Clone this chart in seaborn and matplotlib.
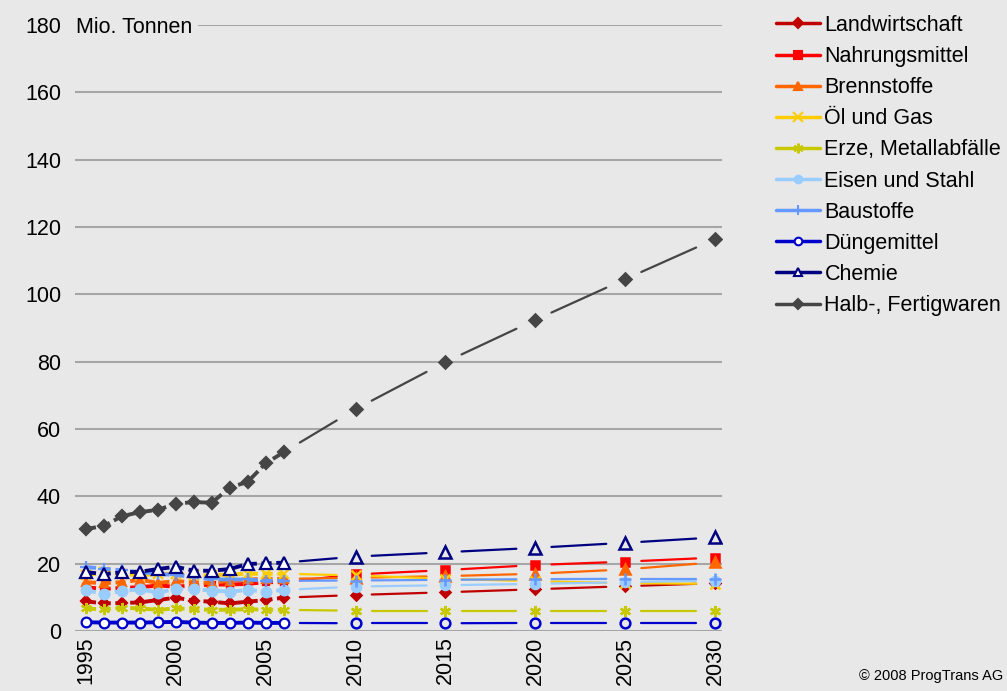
import matplotlib
matplotlib.use("Agg")
import matplotlib.pyplot as plt
import matplotlib.transforms as mtransforms
from matplotlib.lines import Line2D
import numpy as np
import pandas as pd
import seaborn as sns

# ---------------- data ----------------
hist_years = [1995, 1996, 1997, 1998, 1999, 2000, 2001, 2002, 2003, 2004, 2005, 2006]
fc_years = [2010, 2015, 2020, 2025, 2030]

series_names = ["Landwirtschaft", "Nahrungsmittel", "Brennstoffe", "Öl und Gas",
                "Erze, Metallabfälle", "Eisen und Stahl", "Baustoffe", "Düngemittel",
                "Chemie", "Halb-, Fertigwaren"]

landwirtschaft_hist = [8.8, 8.2, 8.3, 8.5, 9.2, 9.9, 9.0, 8.7, 8.2, 8.7, 9.2, 9.9]
landwirtschaft_fc = [10.7, 11.5, 12.4, 13.3, 14.2]
nahrungsmittel_hist = [13.0, 12.5, 12.8, 13.0, 13.5, 13.2, 13.5, 13.8, 13.8, 14.0, 14.5, 14.5]
nahrungsmittel_fc = [16.8, 18.1, 19.6, 20.6, 21.8]
brennstoffe_hist = [14.5, 14.2, 14.5, 15.2, 14.3, 14.8, 14.5, 14.2, 15.0, 15.3, 15.5, 15.5]
brennstoffe_fc = [15.8, 16.3, 17.0, 18.3, 20.4]
oel_gas_hist = [16.5, 17.5, 17.0, 16.5, 17.0, 17.0, 16.5, 16.5, 16.8, 17.0, 17.0, 17.0]
oel_gas_fc = [16.5, 15.5, 14.8, 14.2, 14.0]
erze_hist = [6.7, 6.4, 6.9, 6.7, 6.3, 6.7, 6.5, 6.3, 6.3, 6.5, 6.3, 6.3]
erze_fc = [6.0, 6.0, 6.0, 6.0, 6.0]
eisen_hist = [12.2, 10.9, 11.9, 12.4, 11.4, 12.5, 12.4, 12.0, 11.7, 12.2, 11.7, 12.2]
eisen_fc = [13.2, 13.6, 14.0, 14.5, 15.0]
baustoffe_hist = [19.0, 18.5, 18.0, 17.5, 17.0, 16.6, 16.1, 15.3, 15.3, 15.3, 14.9, 14.9]
baustoffe_fc = [15.0, 15.2, 15.4, 15.5, 15.5]
duenge_hist = [2.6, 2.5, 2.5, 2.5, 2.6, 2.7, 2.5, 2.4, 2.4, 2.5, 2.4, 2.4]
duenge_fc = [2.3, 2.3, 2.4, 2.4, 2.4]
chemie_hist = [17.5, 16.9, 17.4, 17.6, 18.4, 19.1, 17.9, 17.9, 18.4, 19.9, 20.1, 20.3]
chemie_fc = [22.1, 23.4, 24.7, 26.2, 27.8]
halb_hist = [30.3, 31.2, 34.1, 35.3, 36.0, 37.8, 38.3, 38.1, 42.6, 44.3, 49.8, 53.1]
halb_fc = [65.9, 79.9, 92.4, 104.5, 116.4]

hist_values = [landwirtschaft_hist, nahrungsmittel_hist, brennstoffe_hist, oel_gas_hist,
               erze_hist, eisen_hist, baustoffe_hist, duenge_hist, chemie_hist, halb_hist]
fc_values = [landwirtschaft_fc, nahrungsmittel_fc, brennstoffe_fc, oel_gas_fc,
             erze_fc, eisen_fc, baustoffe_fc, duenge_fc, chemie_fc, halb_fc]

y_ticks = [0, 20, 40, 60, 80, 100, 120, 140, 160, 180]
x_ticks = [1995, 2000, 2005, 2010, 2015, 2020, 2025, 2030]
unit_label = "Mio. Tonnen"
copyright_text = "© 2008 ProgTrans AG"

# ---------------- styles ----------------
colors = ["#C00000", "#FF0000", "#FF6600", "#FFCC00", "#C8C800",
          "#99CCFF", "#6699FF", "#0000CC", "#000080", "#454545"]
markers = ["D", "s", "^", "x", (6, 2, 0), "o", "+", "o", "^", "D"]
hollow = [False, False, False, False, False, False, False, True, True, False]
hist_ms = [5.5, 5, 6, 6.5, 8, 7, 9, 7, 8, 6]
fc_ms = [5, 6, 6.5, 7, 8, 6.5, 9, 7, 8.5, 6]
hist_ls = ["dash", "dash", "dash", "dash", "dash", "dash", "dash", "solid", "dash", "dash"]

BG = "#E8E8E8"
GRID = "#A6A6A6"

sns.set_theme(style="white")
plt.rcParams["font.family"] = ["Liberation Sans", "DejaVu Sans"]
plt.rcParams["axes.facecolor"] = BG
plt.rcParams["figure.facecolor"] = BG
plt.rcParams["text.color"] = "black"
plt.rcParams["xtick.color"] = "black"
plt.rcParams["ytick.color"] = "black"
plt.rcParams["xtick.labelcolor"] = "black"
plt.rcParams["ytick.labelcolor"] = "black"

fig = plt.figure(figsize=(10.07, 6.91), dpi=100)
ax = fig.add_axes([75 / 1007, 60 / 691, 647 / 1007, 606 / 691])
ax.set_facecolor(BG)

FS = 15.5

for i, name in enumerate(series_names):
    c = colors[i]
    mfc = "white" if hollow[i] else c
    kw = dict(linewidth=2.8, marker=markers[i], markersize=hist_ms[i],
              markerfacecolor=mfc, markeredgecolor=c, markeredgewidth=1.6,
              zorder=3 + i * 0.1)
    if hist_ls[i] == "dash":
        kw["dashes"] = (2.6, 1.2)
    else:
        kw["linestyle"] = "-"
    sns.lineplot(x=hist_years, y=hist_values[i], ax=ax, color=c, label=None, **kw)

    # forecast segments (shortened between markers)
    xs = [hist_years[-1]] + fc_years
    ys = [hist_values[i][-1]] + fc_values[i]
    rows = []
    for k in range(len(xs) - 1):
        x0, x1, y0, y1 = xs[k], xs[k + 1], ys[k], ys[k + 1]
        a = 0.9 / (x1 - x0)
        b = 1.05 / (x1 - x0)
        rows.append((k, x0 + a * (x1 - x0), y0 + a * (y1 - y0)))
        rows.append((k, x1 - b * (x1 - x0), y1 - b * (y1 - y0)))
    seg = pd.DataFrame(rows, columns=["seg", "x", "y"])
    sns.lineplot(data=seg, x="x", y="y", units="seg", estimator=None, ax=ax,
                 color=c, linewidth=1.6, zorder=2 + i * 0.1)
    fmfc = "none" if hollow[i] else c
    sns.lineplot(x=fc_years, y=fc_values[i], ax=ax, color=c, linestyle="none",
                 marker=markers[i], markersize=fc_ms[i], markerfacecolor=fmfc,
                 markeredgecolor=c, markeredgewidth=1.8, zorder=3 + i * 0.1)

ax.set_xlim(1994.39, 2030.39)
ax.set_ylim(0, 180)
ax.set_yticks(y_ticks)
ax.set_xticks(x_ticks)
ax.set_xticklabels([str(t) for t in x_ticks], rotation=90, fontsize=FS, color="black")
ax.set_yticklabels([str(t) for t in y_ticks], fontsize=FS, color="black")
ax.tick_params(axis="both", length=0)
ax.tick_params(axis="y", pad=10)
ax.tick_params(axis="x", pad=4)
ax.set_xlabel("")
ax.set_ylabel("")
for s in ax.spines.values():
    s.set_visible(False)
for t in y_ticks:
    ax.axhline(t, color=GRID, linewidth=1.5, zorder=1)

trans = mtransforms.blended_transform_factory(ax.transAxes, ax.transData)
ax.text(0.002, 179.2, unit_label, transform=trans, fontsize=FS, ha="left",
        va="center", zorder=5, color="black",
        bbox=dict(facecolor=BG, edgecolor="none", pad=4))

handles = []
for i, name in enumerate(series_names):
    c = colors[i]
    mfc = "white" if hollow[i] else c
    handles.append(Line2D([0], [0], color=c, linewidth=2.5, marker=markers[i],
                          markersize=5.5 if markers[i] not in ("+", "x", (6, 2, 0)) else 7,
                          markerfacecolor=mfc, markeredgecolor=c,
                          markeredgewidth=1.5))
leg = fig.legend(handles, series_names, loc="upper left",
                 bbox_to_anchor=(776 / 1007, 1 - 15 / 691), frameon=False,
                 fontsize=FS, handlelength=2.05, handletextpad=0.2,
                 labelspacing=0.47, borderpad=0, borderaxespad=0)
for t in leg.get_texts():
    t.set_color("black")

fig.text(1003 / 1007, 1 - 676 / 691, copyright_text, fontsize=10.5,
         ha="right", va="center", color="black")

fig.savefig("out.png", dpi=100, facecolor=BG)
